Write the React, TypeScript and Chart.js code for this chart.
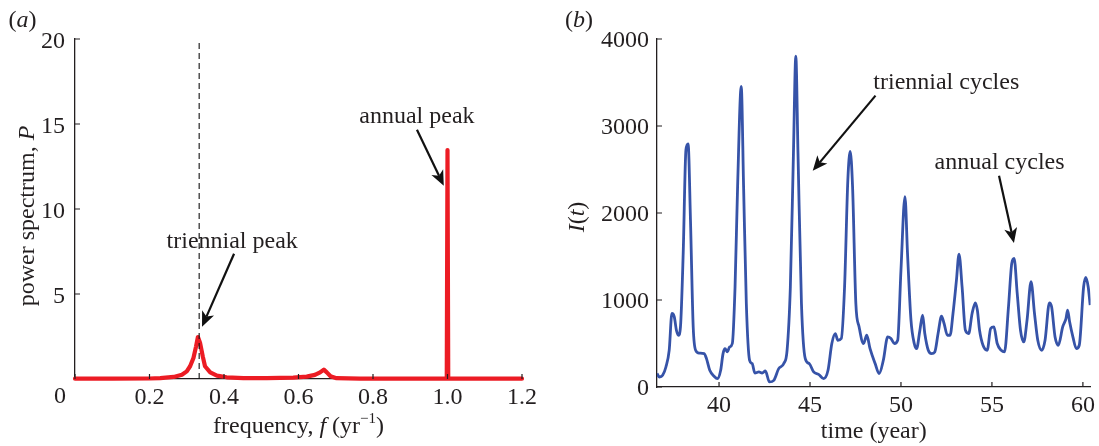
import React, { useEffect, useRef } from 'react';
import { Chart, registerables } from 'chart.js';
Chart.register(...registerables);

// ---------- Panel (a): power spectrum ----------
const specFreq = [0, 0.1, 0.2, 0.229, 0.265, 0.287, 0.3, 0.309, 0.318, 0.325, 0.33, 0.336, 0.343, 0.349, 0.363, 0.381, 0.407, 0.452, 0.515, 0.586, 0.622, 0.644, 0.658, 0.668, 0.676, 0.686, 0.702, 0.765, 0.9, 0.998, 1.0, 1.002, 1.1, 1.2];
const specPower = [0.02, 0.02, 0.03, 0.05, 0.12, 0.25, 0.45, 0.75, 1.24, 1.92, 2.47, 2.1, 1.33, 0.75, 0.39, 0.2, 0.1, 0.05, 0.05, 0.08, 0.14, 0.24, 0.39, 0.55, 0.39, 0.16, 0.05, 0.02, 0.02, 0.02, 13.47, 0.02, 0.02, 0.02];
const triennialFreq = 1 / 3;
const freqTicks = [0, 0.2, 0.4, 0.6, 0.8, 1.0, 1.2];
const powerTicks = [5, 10, 15, 20];

// ---------- Panel (b): time series ----------
const timeYears = [
  36.59, 36.72, 36.90, 37.08, 37.26, 37.41, 37.54, 37.66, 37.77, 37.88,
  38.03, 38.18, 38.30, 38.43, 38.58, 38.72, 38.91, 39.18, 39.31, 39.49,
  39.73, 39.91, 40.09, 40.22, 40.33, 40.46, 40.58, 40.73, 40.88, 41.02,
  41.22, 41.35, 41.50, 41.68, 41.82, 41.97, 42.19, 42.37, 42.55, 42.77,
  43.01, 43.28, 43.56, 43.74, 43.92, 44.09, 44.22, 44.34, 44.53, 44.74,
  44.96, 45.20, 45.47, 45.75, 45.99, 46.20, 46.39, 46.53, 46.72, 46.90,
  47.08, 47.21, 47.34, 47.52, 47.70, 47.94, 48.12, 48.30, 48.58, 48.80,
  49.03, 49.27, 49.45, 49.64, 49.82, 50.00, 50.22, 50.36, 50.55, 50.73,
  50.86, 51.04, 51.19, 51.31, 51.50, 51.68, 51.86, 52.04, 52.23, 52.37,
  52.55, 52.70, 52.86, 53.05, 53.19, 53.36, 53.54, 53.72, 53.91, 54.09,
  54.20, 54.32, 54.51, 54.74, 54.93, 55.11, 55.29, 55.51, 55.69, 55.91,
  56.09, 56.22, 56.39, 56.57, 56.75, 56.93, 57.15, 57.34, 57.52, 57.74,
  57.92, 58.16, 58.28, 58.47, 58.65, 58.89, 59.07, 59.16, 59.27, 59.45,
  59.64, 59.80, 60.04, 60.16, 60.29, 60.40,
];
const infected = [
  154, 115, 134, 230, 420, 845, 806, 650, 595, 690,
  1536, 2726, 2795, 1920, 690, 420, 390, 384, 326, 192,
  123, 96, 192, 384, 440, 403, 460, 500, 1150, 2300,
  3456, 2300, 960, 307, 269, 161, 173, 161, 184, 58,
  77, 211, 269, 422, 1150, 2688, 3802, 2688, 960, 326,
  269, 173, 146, 96, 192, 500, 614, 537, 557, 1150,
  2380, 2707, 2300, 960, 690, 500, 595, 440, 269, 154,
  307, 576, 557, 500, 537, 1344, 2189, 1536, 768, 500,
  440, 653, 826, 614, 422, 384, 403, 614, 814, 730,
  595, 595, 845, 1229, 1528, 1150, 653, 614, 845, 968,
  883, 653, 480, 422, 672, 691, 500, 422, 403, 922,
  1421, 1478, 1075, 653, 518, 768, 1210, 845, 537, 422,
  537, 968, 922, 576, 480, 691, 787, 883, 749, 576,
  442, 480, 1152, 1260, 1152, 941,
];
const yearTicks = [40, 45, 50, 55, 60];
const infectedTicks = [0, 1000, 2000, 3000, 4000];

// annotation anchors (data units)
const annualPeakText = [0.918, 15.42];
const annualPeakArrow = [0.918, 14.66, 0.99, 11.37];
const triennialPeakText = [0.422, 8.09];
const triennialPeakArrow = [0.427, 7.37, 0.341, 3.08];
const triCyclesText = [52.49, 3499];
const triCyclesArrow = [48.6, 3349, 45.15, 2485];
const annCyclesText = [55.42, 2577];
const annCyclesArrow = [55.39, 2427, 56.21, 1655];

const FAMILY = '"Liberation Serif", "DejaVu Serif", "Times New Roman", serif';
const TXT = '#231f20';
const FS = 24;

type Run = { t: string; it?: boolean; size?: number; dy?: number };

function fnt(r: Run) {
  return `${r.it ? 'italic ' : ''}${r.size || FS}px ${FAMILY}`;
}

function drawRuns(ctx: CanvasRenderingContext2D, runs: Run[], x: number, y: number) {
  let total = 0;
  const widths = runs.map((r) => {
    ctx.font = fnt(r);
    const w = ctx.measureText(r.t).width;
    total += w;
    return w;
  });
  let cx = x - total / 2;
  ctx.textAlign = 'left';
  ctx.textBaseline = 'middle';
  ctx.fillStyle = TXT;
  runs.forEach((r, i) => {
    ctx.font = fnt(r);
    ctx.fillText(r.t, cx, y + (r.dy || 0));
    cx += widths[i];
  });
}

function drawArrow(ctx: CanvasRenderingContext2D, x1: number, y1: number, x2: number, y2: number) {
  const ang = Math.atan2(y2 - y1, x2 - x1);
  const hl = 15;
  const hw = 6.5;
  const c = Math.cos(ang);
  const s = Math.sin(ang);
  const bx = x2 - hl * c;
  const by = y2 - hl * s;
  ctx.save();
  ctx.strokeStyle = '#111';
  ctx.fillStyle = '#111';
  ctx.lineWidth = 2.2;
  ctx.beginPath();
  ctx.moveTo(x1, y1);
  ctx.lineTo(bx + 4 * c, by + 4 * s);
  ctx.stroke();
  ctx.beginPath();
  ctx.moveTo(x2, y2);
  ctx.lineTo(bx + hw * s, by - hw * c);
  ctx.lineTo(bx + 4 * c, by + 4 * s);
  ctx.lineTo(bx - hw * s, by + hw * c);
  ctx.closePath();
  ctx.fill();
  ctx.restore();
}

function inwardTicks(chart: any, xt: number[], yt: number[]) {
  const ctx = chart.ctx as CanvasRenderingContext2D;
  const { left, bottom } = chart.chartArea;
  const xs = chart.scales.x;
  const ys = chart.scales.y;
  ctx.save();
  ctx.strokeStyle = TXT;
  ctx.lineWidth = 1.2;
  ctx.beginPath();
  xt.forEach((v) => {
    const p = xs.getPixelForValue(v);
    ctx.moveTo(p, bottom);
    ctx.lineTo(p, bottom - 5);
  });
  yt.forEach((v) => {
    const p = ys.getPixelForValue(v);
    ctx.moveTo(left, p);
    ctx.lineTo(left + 5, p);
  });
  ctx.stroke();
  ctx.restore();
}

function axisCommon(ticks: number[], width: number | null, height: number | null, pad: number, fmt?: (v: number) => string, labelOffset = 0) {
  return {
    type: 'linear',
    afterBuildTicks: (scale: any) => {
      scale.ticks = ticks.map((v) => ({ value: v }));
    },
    afterFit: (scale: any) => {
      if (width !== null) scale.width = width;
      if (height !== null) scale.height = height;
    },
    grid: { display: false, drawTicks: false },
    border: { display: true, color: TXT, width: 1.3 },
    ticks: {
      padding: pad,
      color: TXT,
      labelOffset,
      font: { family: FAMILY, size: FS },
      maxRotation: 0,
      autoSkip: false,
      callback: fmt ? (v: any) => fmt(Number(v)) : (v: any) => String(v),
    },
  };
}

export default function App() {
  const refA = useRef<HTMLCanvasElement>(null);
  const refB = useRef<HTMLCanvasElement>(null);

  useEffect(() => {
    const overlayA = {
      id: 'overlayA',
      afterDraw(chart: any) {
        const ctx = chart.ctx as CanvasRenderingContext2D;
        const xs = chart.scales.x;
        const ys = chart.scales.y;
        const ca = chart.chartArea;
        inwardTicks(chart, freqTicks, powerTicks);
        ctx.save();
        drawRuns(ctx, [{ t: '0' }], 60, 397);
        drawRuns(ctx, [{ t: '(' }, { t: 'a', it: true }, { t: ')' }], 22.5, 21);
        drawRuns(ctx, [{ t: 'frequency, ' }, { t: 'f', it: true }, { t: ' (yr' }, { t: '\u22121', size: 15, dy: -8 }, { t: ')' }], (ca.left + ca.right) / 2, ca.bottom + 48);
        ctx.save();
        ctx.translate(28, (ca.top + ca.bottom) / 2 + 7);
        ctx.rotate(-Math.PI / 2);
        drawRuns(ctx, [{ t: 'power spectrum, ' }, { t: 'P', it: true }], 0, 0);
        ctx.restore();
        drawRuns(ctx, [{ t: 'annual peak' }], xs.getPixelForValue(annualPeakText[0]), ys.getPixelForValue(annualPeakText[1]));
        drawArrow(ctx, xs.getPixelForValue(annualPeakArrow[0]), ys.getPixelForValue(annualPeakArrow[1]), xs.getPixelForValue(annualPeakArrow[2]), ys.getPixelForValue(annualPeakArrow[3]));
        drawRuns(ctx, [{ t: 'triennial peak' }], xs.getPixelForValue(triennialPeakText[0]), ys.getPixelForValue(triennialPeakText[1]));
        drawArrow(ctx, xs.getPixelForValue(triennialPeakArrow[0]), ys.getPixelForValue(triennialPeakArrow[1]), xs.getPixelForValue(triennialPeakArrow[2]), ys.getPixelForValue(triennialPeakArrow[3]));
        ctx.restore();
      },
    };

    const overlayB = {
      id: 'overlayB',
      afterDraw(chart: any) {
        const ctx = chart.ctx as CanvasRenderingContext2D;
        const xs = chart.scales.x;
        const ys = chart.scales.y;
        const ca = chart.chartArea;
        inwardTicks(chart, yearTicks, infectedTicks);
        ctx.save();
        drawRuns(ctx, [{ t: '(' }, { t: 'b', it: true }, { t: ')' }], 29, 21);
        drawRuns(ctx, [{ t: 'time (year)' }], (ca.left + ca.right) / 2, ca.bottom + 45);
        ctx.save();
        ctx.translate(28, (ca.top + ca.bottom) / 2 + 4);
        ctx.rotate(-Math.PI / 2);
        drawRuns(ctx, [{ t: 'I', it: true }, { t: '(' }, { t: 't', it: true }, { t: ')' }], 0, 0);
        ctx.restore();
        drawRuns(ctx, [{ t: 'triennial cycles' }], xs.getPixelForValue(triCyclesText[0]), ys.getPixelForValue(triCyclesText[1]));
        drawArrow(ctx, xs.getPixelForValue(triCyclesArrow[0]), ys.getPixelForValue(triCyclesArrow[1]), xs.getPixelForValue(triCyclesArrow[2]), ys.getPixelForValue(triCyclesArrow[3]));
        drawRuns(ctx, [{ t: 'annual cycles' }], xs.getPixelForValue(annCyclesText[0]), ys.getPixelForValue(annCyclesText[1]));
        drawArrow(ctx, xs.getPixelForValue(annCyclesArrow[0]), ys.getPixelForValue(annCyclesArrow[1]), xs.getPixelForValue(annCyclesArrow[2]), ys.getPixelForValue(annCyclesArrow[3]));
        ctx.restore();
      },
    };

    const chartA = new Chart(refA.current as HTMLCanvasElement, {
      type: 'line',
      data: {
        datasets: [
          {
            data: [
              { x: triennialFreq, y: 0 },
              { x: triennialFreq, y: 20 },
            ],
            borderColor: '#111',
            borderWidth: 1.1,
            borderDash: [6, 4],
            pointRadius: 0,
            tension: 0,
          },
          {
            data: specFreq.map((f, i) => ({ x: f, y: specPower[i] })),
            borderColor: '#ec1c24',
            borderWidth: 4.2,
            borderCapStyle: 'round',
            borderJoinStyle: 'round',
            pointRadius: 0,
            tension: 0,
            clip: false,
          },
        ],
      } as any,
      options: {
        responsive: false,
        animation: false,
        devicePixelRatio: 1,
        layout: { padding: { top: 39, right: 28, left: 0, bottom: 0 } },
        plugins: { legend: { display: false }, tooltip: { enabled: false } },
        scales: {
          x: { ...axisCommon(freqTicks, null, 67, 4, (v) => (v === 0 ? '' : v.toFixed(1))), min: 0, max: 1.2 },
          y: { ...axisCommon(powerTicks, 75, null, 10, undefined, 3), min: 0, max: 20 },
        },
      } as any,
      plugins: [overlayA],
    });

    const chartB = new Chart(refB.current as HTMLCanvasElement, {
      type: 'line',
      data: {
        datasets: [
          {
            data: timeYears.map((t, i) => ({ x: t, y: infected[i] })),
            borderColor: '#3653a8',
            borderWidth: 2.8,
            borderJoinStyle: 'round',
            pointRadius: 0,
            cubicInterpolationMode: 'monotone',
          },
        ],
      } as any,
      options: {
        responsive: false,
        animation: false,
        devicePixelRatio: 1,
        layout: { padding: { top: 39, right: 6, left: 0, bottom: 0 } },
        plugins: { legend: { display: false }, tooltip: { enabled: false } },
        scales: {
          x: { ...axisCommon(yearTicks, null, 59, 4), min: 36.59, max: 60.42 },
          y: { ...axisCommon(infectedTicks, 107, null, 8, undefined, 2), min: 0, max: 4000 },
        },
      } as any,
      plugins: [overlayB],
    });

    return () => {
      chartA.destroy();
      chartB.destroy();
    };
  }, []);

  return (
    <div style={{ position: 'absolute', left: 0, top: 0, width: 1099, height: 446, background: '#fff' }}>
      <canvas ref={refA} width={550} height={446} style={{ position: 'absolute', left: 0, top: 0, width: 550, height: 446 }} />
      <canvas ref={refB} width={549} height={446} style={{ position: 'absolute', left: 550, top: 0, width: 549, height: 446 }} />
    </div>
  );
}
